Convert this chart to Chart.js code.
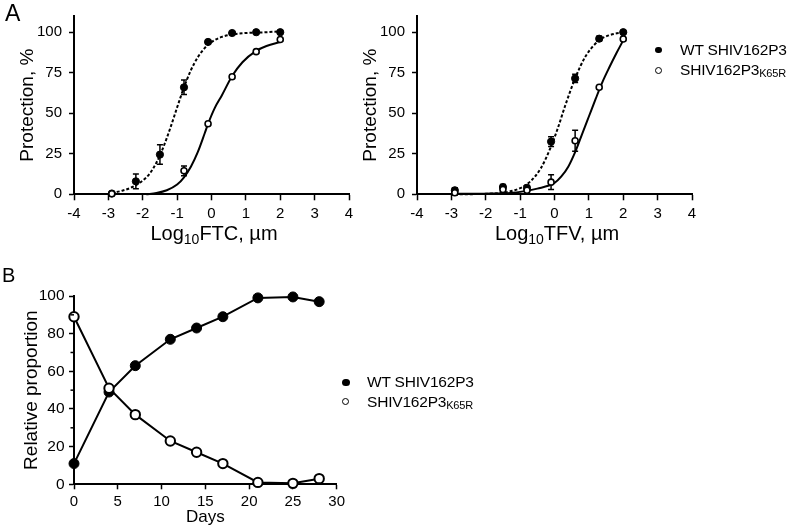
<!DOCTYPE html>
<html><head><meta charset="utf-8">
<script src="https://cdn.jsdelivr.net/npm/chart.js@4/dist/chart.umd.min.js"></script>
<style>
html,body{margin:0;padding:0;background:#fff;}
body{width:790px;height:531px;position:relative;overflow:hidden;font-family:"Liberation Sans",Arial,sans-serif;color:#000;}
canvas{position:absolute;}
.t{position:absolute;white-space:nowrap;}
.sb{font-size:0.7em;position:relative;top:0.28em;}
.lg{font-size:15.5px;line-height:16px;letter-spacing:-0.2px;}
.lg .sb{font-size:11px;top:2px;}
.dot{position:absolute;border-radius:50%;box-sizing:border-box;}
</style></head>
<body>
<canvas id="cFTC" width="370" height="230" style="left:0;top:0"></canvas>
<canvas id="cTFV" width="370" height="230" style="left:343px;top:0"></canvas>
<canvas id="cB" width="360" height="251" style="left:0;top:280px"></canvas>

<div class="t" style="left:5px;top:2px;font-size:23px;line-height:23px;">A</div>
<div class="t" style="left:2px;top:265px;font-size:20px;line-height:20px;">B</div>

<div class="t" style="left:114px;width:200px;text-align:center;top:223px;font-size:20px;line-height:20px;">Log<span class="sb">10</span>FTC, µm</div>
<div class="t" style="left:457px;width:200px;text-align:center;top:223px;font-size:20px;line-height:20px;">Log<span class="sb">10</span>TFV, µm</div>

<div class="dot" style="left:655px;top:46.7px;width:6.6px;height:6.6px;background:#000;"></div>
<div class="dot" style="left:654.8px;top:66.5px;width:7px;height:7px;border:1.7px solid #000;background:#fff;"></div>
<div class="t lg" style="left:680px;top:41.7px;">WT SHIV162P3</div>
<div class="t lg" style="left:680px;top:61.7px;">SHIV162P3<span class="sb">K65R</span></div>

<div class="dot" style="left:342px;top:378.5px;width:7.5px;height:7.5px;background:#000;"></div>
<div class="dot" style="left:342.2px;top:398.2px;width:7px;height:7px;border:1.7px solid #000;background:#fff;"></div>
<div class="t lg" style="left:367px;top:374px;">WT SHIV162P3</div>
<div class="t lg" style="left:367px;top:394px;">SHIV162P3<span class="sb">K65R</span></div>

<script>
// ---------- tick labels ----------
const aXTicks = [-4, -3, -2, -1, 0, 1, 2, 3, 4];
const aYTicks = [0, 25, 50, 75, 100];
const bXTicks = [0, 5, 10, 15, 20, 25, 30];
const bYTicks = [0, 20, 40, 60, 80, 100];
const bMinorTicks = [10, 30, 50, 70, 90];

// ---------- Panel A, FTC ----------
const ftcX = [-2.9, -2.2, -1.5, -0.8, -0.1, 0.6, 1.3, 2.0];
const ftcWT = [0.5, 8, 24.5, 66, 94, 99.5, 100, 100];
const ftcWTErr = [0, 4.5, 6, 4.5, 1, 0.5, 0, 0];
const ftcK65RX = [-2.9, -0.8, -0.1, 0.6, 1.3, 2.0];
const ftcK65R = [0.3, 14.5, 43.5, 72.5, 88, 95.5];
const ftcK65RErr = [0, 3, 1, 1, 1, 1];
// fitted curves
const ftcWTCurveX = [-2.9, -2.6, -2.3, -2.0, -1.8, -1.6, -1.4, -1.2, -1.0, -0.8, -0.6, -0.4, -0.2, 0, 0.3, 0.6, 1.0, 1.5, 2.0];
const ftcWTCurveY = [0.8, 2.2, 4.5, 8.5, 12.7, 19.6, 29.1, 40.8, 53.6, 66.0, 76.5, 84.5, 90.2, 93.9, 97.1, 98.6, 99.5, 99.9, 100.5];
const ftcK65RCurveX = [-1.9, -1.6, -1.3, -1.0, -0.8, -0.6, -0.4, -0.2, -0.1, 0.1, 0.3, 0.6, 0.9, 1.3, 1.6, 2.0];
const ftcK65RCurveY = [0, 0.8, 2.5, 6, 10.5, 17, 26, 37.5, 43.5, 53.5, 61, 73, 81.5, 88.5, 91.5, 94];

// ---------- Panel A, TFV ----------
const tfvX = [-2.9, -1.5, -0.8, -0.1, 0.6, 1.3, 2.0];
const tfvWT = [2.5, 4.5, 4, 32.5, 71.5, 96, 100];
const tfvWTErr = [1.5, 1.5, 1.5, 3, 2.5, 1.5, 0.5];
const tfvK65R = [1, 3, 2.5, 7.5, 33, 66, 95.8];
const tfvK65RErr = [1.5, 1.5, 1, 4.5, 6.5, 1, 1];
const tfvWTCurveX = [-2.9, -2.0, -1.5, -1.0, -0.7, -0.4, -0.1, 0.1, 0.3, 0.6, 0.9, 1.3, 1.6, 2.0];
const tfvWTCurveY = [0, 0.3, 1, 3.8, 8, 16, 29.5, 41, 54, 71.5, 85, 95, 98.2, 100];
const tfvK65RCurveX = [-2.9, -2.0, -1.5, -1.0, -0.5, 0, 0.2, 0.4, 0.6, 0.8, 1.0, 1.2, 1.4, 1.6, 1.8, 2.0];
const tfvK65RCurveY = [0.3, 0.4, 0.6, 1.5, 3.5, 7, 11, 17, 26, 37, 48, 59, 69.5, 78.5, 87, 95];

// ---------- Panel B ----------
const days = [0, 4, 7, 11, 14, 17, 21, 25, 28];
const bWT = [11, 49, 63, 77, 83, 89, 99, 99.5, 97];
const bK65R = [89, 51, 37, 23, 17, 11, 1, 0.5, 3];

const FONT = '"Liberation Sans", Arial, sans-serif';
Chart.defaults.font.family = FONT;
Chart.defaults.color = '#000';

const pts = (xs, ys) => xs.map((x, i) => ({x: x, y: ys[i]}));
const setTicks = arr => (s => { s.ticks = arr.map(v => ({value: v})); });

const errorBars = {
  id: 'errorBars',
  beforeDatasetsDraw(chart) {
    const ctx = chart.ctx, ys = chart.scales.y;
    chart.data.datasets.forEach((ds, i) => {
      if (!ds.errors) return;
      const meta = chart.getDatasetMeta(i);
      ctx.save();
      ctx.strokeStyle = '#000';
      ctx.lineWidth = 1.5;
      meta.data.forEach((el, j) => {
        const e = ds.errors[j];
        if (!e) return;
        const v = ds.data[j].y;
        const y1 = ys.getPixelForValue(v + e), y2 = ys.getPixelForValue(v - e);
        ctx.beginPath();
        ctx.moveTo(el.x, y1); ctx.lineTo(el.x, y2);
        ctx.moveTo(el.x - 3, y1); ctx.lineTo(el.x + 3, y1);
        ctx.moveTo(el.x - 3, y2); ctx.lineTo(el.x + 3, y2);
        ctx.stroke();
      });
      ctx.restore();
    });
  }
};

const minorTicks = {
  id: 'minorTicks',
  afterDraw(chart, args, opts) {
    if (!opts || !opts.values) return;
    const s = chart.scales.y, ctx = chart.ctx, x = chart.chartArea.left;
    ctx.save();
    ctx.strokeStyle = '#000';
    ctx.lineWidth = 1.5;
    opts.values.forEach(v => {
      const y = s.getPixelForValue(v);
      ctx.beginPath(); ctx.moveTo(x - 3.5, y); ctx.lineTo(x, y); ctx.stroke();
    });
    ctx.restore();
  }
};

function panelA(id, wx, wy, we, kx, ky, ke, cwx, cwy, ckx, cky) {
  return new Chart(document.getElementById(id), {
    type: 'scatter',
    data: {datasets: [
      {data: pts(kx, ky), errors: ke, pointRadius: 3, pointBackgroundColor: '#fff', pointBorderColor: '#000', pointBorderWidth: 1.6, showLine: false, order: 1, clip: false},
      {data: pts(wx, wy), errors: we, pointRadius: 3.6, pointBackgroundColor: '#000', pointBorderColor: '#000', pointBorderWidth: 1, showLine: false, order: 2, clip: false},
      {data: pts(ckx, cky), showLine: true, pointRadius: 0, borderColor: '#000', borderWidth: 2, cubicInterpolationMode: 'monotone', order: 3, clip: false},
      {data: pts(cwx, cwy), showLine: true, pointRadius: 0, borderColor: '#000', borderWidth: 2, borderDash: [3, 2], cubicInterpolationMode: 'monotone', order: 4, clip: false}
    ]},
    options: {
      responsive: false, animation: false, devicePixelRatio: 1,
      layout: {padding: {top: 10.6, right: 21, left: 0, bottom: 0}},
      plugins: {legend: {display: false}, tooltip: {enabled: false}},
      scales: {
        x: {
          type: 'linear', min: -4, max: 4,
          afterFit: s => { s.height = 35.7; },
          afterBuildTicks: setTicks(aXTicks),
          ticks: {font: {size: 15}, color: '#000', padding: 5, maxRotation: 0, autoSkip: false},
          grid: {drawOnChartArea: false, tickLength: 6, tickColor: '#000', tickWidth: 1.5},
          border: {color: '#000', width: 2}
        },
        y: {
          type: 'linear', min: 0, max: 110,
          afterFit: s => { s.width = 74; },
          afterBuildTicks: setTicks(aYTicks),
          ticks: {font: {size: 15}, color: '#000', padding: 7, autoSkip: false},
          grid: {drawOnChartArea: false, tickLength: 5, tickColor: '#000', tickWidth: 1.5},
          border: {color: '#000', width: 2},
          title: {display: true, text: 'Protection, %', font: {size: 19}, color: '#000', padding: {top: 16, bottom: 0}}
        }
      }
    },
    plugins: [errorBars]
  });
}

panelA('cFTC', ftcX, ftcWT, ftcWTErr, ftcK65RX, ftcK65R, ftcK65RErr, ftcWTCurveX, ftcWTCurveY, ftcK65RCurveX, ftcK65RCurveY);
panelA('cTFV', tfvX, tfvWT, tfvWTErr, tfvX, tfvK65R, tfvK65RErr, tfvWTCurveX, tfvWTCurveY, tfvK65RCurveX, tfvK65RCurveY);

new Chart(document.getElementById('cB'), {
  type: 'scatter',
  data: {datasets: [
    {data: pts(days, bK65R), showLine: true, borderColor: '#000', borderWidth: 2, pointRadius: 4.7, pointBackgroundColor: '#fff', pointBorderColor: '#000', pointBorderWidth: 2, order: 1, clip: false},
    {data: pts(days, bWT), showLine: true, borderColor: '#000', borderWidth: 2, pointRadius: 5, pointBackgroundColor: '#000', pointBorderColor: '#000', pointBorderWidth: 1, order: 2, clip: false}
  ]},
  options: {
    responsive: false, animation: false, devicePixelRatio: 1,
    layout: {padding: {top: 16, right: 23.3, left: 0, bottom: 0}},
    plugins: {legend: {display: false}, tooltip: {enabled: false}, minorTicks: {values: bMinorTicks}},
    scales: {
      x: {
        type: 'linear', min: 0, max: 30,
        afterFit: s => { s.height = 46.7; },
        afterBuildTicks: setTicks(bXTicks),
        ticks: {font: {size: 15}, color: '#000', padding: 4, maxRotation: 0, autoSkip: false},
        grid: {drawOnChartArea: false, tickLength: 5, tickColor: '#000', tickWidth: 1.5},
        border: {color: '#000', width: 2},
        title: {display: true, text: 'Days', font: {size: 17}, color: '#000', padding: {top: 0, bottom: 3}}
      },
      y: {
        type: 'linear', min: 0, max: 100,
        afterFit: s => { s.width = 74; },
        afterBuildTicks: setTicks(bYTicks),
        ticks: {font: {size: 15.5}, color: '#000', padding: 4.5, autoSkip: false},
        grid: {drawOnChartArea: false, tickLength: 5, tickColor: '#000', tickWidth: 1.5},
        border: {color: '#000', width: 2},
        title: {display: true, text: 'Relative proportion', font: {size: 19}, color: '#000', padding: {top: 20, bottom: 0}}
      }
    }
  },
  plugins: [minorTicks]
});
</script>
</body></html>
